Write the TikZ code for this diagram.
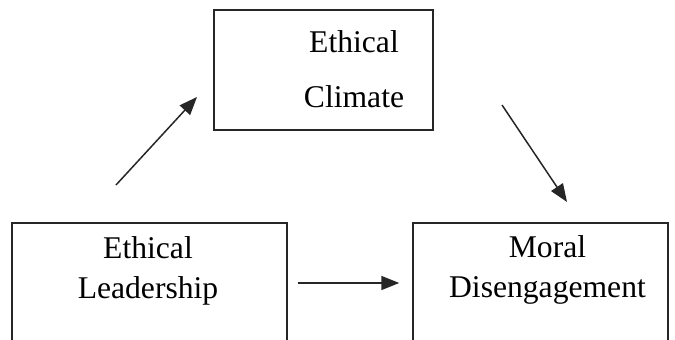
\documentclass[tikz,border=0pt]{standalone}
\usepackage{fontspec}
\setmainfont{Liberation Serif}
\usetikzlibrary{positioning,arrows.meta,calc}
\tikzset{
  >=stealth,
  % --- nodes
  box/.style  = {draw=black!85, line width=0.85pt, fill=white, inner sep=0pt},
  txt/.style  = {align=center, inner sep=0pt, font=\fontsize{18}{23}\selectfont},
  % --- edges
  e/.style    = {-{Triangle[length=0.36cm,width=0.28cm]}, line width=0.85pt, draw=black!85},
}
\begin{document}
\begin{tikzpicture}[x=0.02cm,y=-0.02cm,
  tall/.style={txt,font=\fontsize{18}{31}\selectfont},
]
  \useasboundingbox (0,0) rectangle (675,340);
  \node[box,minimum width=4.38cm,minimum height=2.4cm] (clim) at (323.5,70) {};
  \node[box,minimum width=5.5cm,minimum height=2.4cm] (lead) at (149.5,283) {};
  \node[box,minimum width=5.1cm,minimum height=2.4cm] (dis) at (540.5,283) {};
  \node[tall] (climtxt) at (354,69) {Ethical\\Climate};
  \node[txt] (leadtxt) at (148,271) {Ethical\\Leadership};
  \node[txt] (distxt) at (547.5,270) {Moral\\Disengagement};
  \coordinate (a1s) at (116,185); \coordinate (a1e) at (197,97);
  \coordinate (a3s) at (502,105); \coordinate (a3e) at (567,202);
  \draw[e] (a1s)--(a1e);
  \draw[e] (a3s)--(a3e);
  \draw[e,shorten <=0.2cm,shorten >=0.26cm] (lead.east)--(dis.west);
\end{tikzpicture}
\end{document}
